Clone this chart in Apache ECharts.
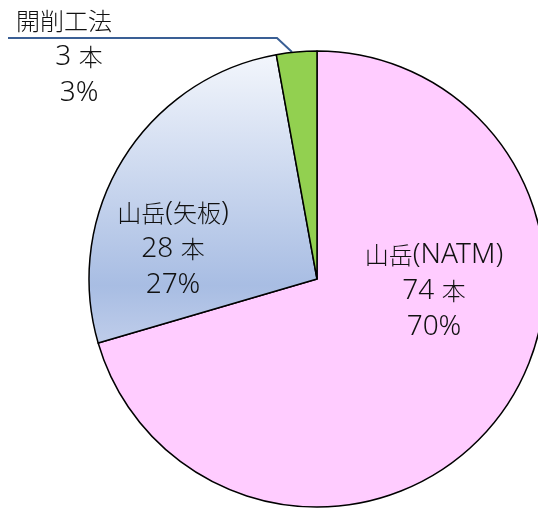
<!DOCTYPE html>
<html>
<head>
<meta charset="utf-8">
<script src="https://cdn.jsdelivr.net/npm/echarts@6/dist/echarts.min.js"></script>
<style>
html,body{margin:0;padding:0;background:#fff;}
#main{width:538px;height:508px;}
</style>
</head>
<body>
<div id="main"></div>
<script>
// 工法別の本数
var names = ['山岳(NATM)', '山岳(矢板)', '開削工法'];
var counts = [74, 28, 3];
var percents = ['70%', '27%', '3%'];

var colors = [
    '#ffccff',
    new echarts.graphic.LinearGradient(0, 0, 0, 1, [
        {offset: 0, color: '#f3f6fc'},
        {offset: 0.8, color: '#a8bde3'},
        {offset: 1, color: '#bfcdea'}
    ]),
    '#92d050'
];

// ラベル位置（中心座標）
var labelPos = [[434, 291], [173, 249], [79, 57]];

// 漢字とそれ以外で文字スタイルを分ける
function wrap(s) {
    return String(s).replace(/[\u3000-\u9fff\uff00-\uffef]+|[^\u3000-\u9fff\uff00-\uffef]+/g, function (t) {
        return /[\u3000-\u9fff\uff00-\uffef]/.test(t) ? '{c|' + t + '}' : '{n|' + t + '}';
    });
}

var pieData = [];
for (var i = 0; i < names.length; i++) {
    var d = {
        name: names[i],
        value: counts[i],
        itemStyle: {color: colors[i]}
    };
    if (i == 2) {
        d.label = {position: 'outside'};
        d.labelLine = {show: true, length: 10, length2: 20, lineStyle: {color: '#3a5f95', width: 2}};
    }
    pieData.push(d);
}

var chart = echarts.init(document.getElementById('main'));
chart.setOption({
    animation: false,
    series: [{
        type: 'pie',
        center: ['317px', '279px'],
        radius: 228,
        startAngle: 90,
        clockwise: true,
        data: pieData,
        itemStyle: {borderColor: '#000', borderWidth: 1.5},
        label: {
            show: true,
            position: 'inside',
            fontFamily: 'Noto Sans CJK JP',
            fontSize: 24,
            fontWeight: 300,
            color: '#111',
            lineHeight: 36,
            formatter: function (p) {
                var first = p.dataIndex == 2 ? '{cp|' + p.name + '}' : wrap(p.name);
                return first + '\n' + wrap(p.value + ' ') + '{c|本}\n' + wrap(percents[p.dataIndex]);
            },
            rich: {
                c: {fontSize: 24, fontWeight: 300, lineHeight: 36, color: '#111', fontFamily: 'Noto Sans CJK JP'},
                cp: {fontSize: 24, fontWeight: 300, lineHeight: 36, padding: [0, 30, 0, 0], color: '#111', fontFamily: 'Noto Sans CJK JP'},
                n: {fontSize: 28, fontWeight: 300, lineHeight: 36, color: '#111', fontFamily: 'Noto Sans'}
            }
        },
        labelLine: {show: false},
        labelLayout: function (params) {
            var pos = labelPos[params.dataIndex];
            var res = {x: pos[0], y: pos[1], align: 'center', verticalAlign: 'middle'};
            if (params.dataIndex == 2) {
                res.labelLinePoints = [[292, 52], [277, 38], [8, 38]];
            }
            return res;
        },
        emphasis: {disabled: true}
    }]
});
</script>
</body>
</html>
